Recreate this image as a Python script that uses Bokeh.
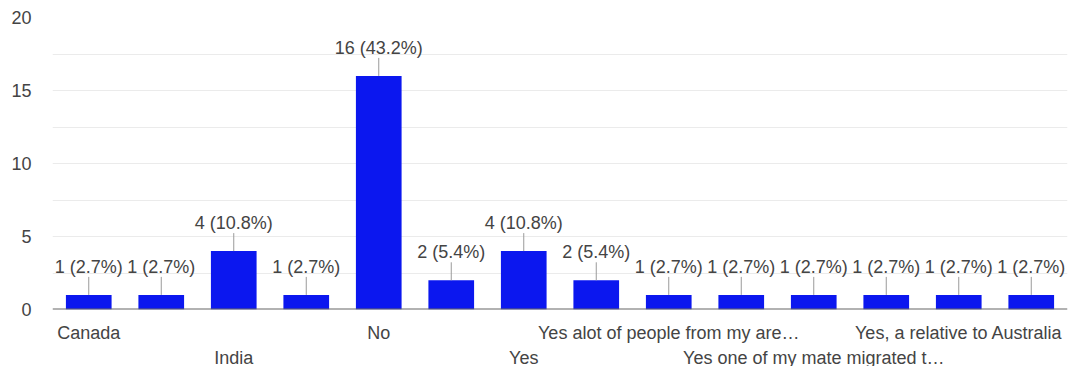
from bokeh.plotting import figure
from bokeh.layouts import column
from bokeh.models import (ColumnDataSource, LabelSet, LinearAxis, FixedTicker,
                          Range1d, Span)
from bokeh.core.properties import value
from bokeh.embed import file_html
from bokeh.resources import INLINE

# Survey answers (only some names fit under the axis; the rest stay blank)
answers = ["Canada", "", "India", "", "No", "", "Yes", "",
           "Yes alot of people from my are\u2026", "",
           "Yes one of my mate migrated t\u2026", "",
           "Yes, a relative to Australia", ""]
counts = [1, 1, 4, 1, 16, 2, 4, 2, 1, 1, 1, 1, 1, 1]
y_ticks = [0, 5, 10, 15, 20]
y_minor = [2.5, 7.5, 12.5, 17.5]

total = sum(counts)
xs = list(range(len(counts)))
labels = [f"{c} ({c / total * 100:.1f}%)" for c in counts]

FONT = "Liberation Sans"
BAR = "#0b17ef"
TEXT = "#444444"

W = 1070
H_MAIN, H_ROW2 = 346, 20
top, bottom, left, right = 17, 37, 52, 3
frame_h = H_MAIN - top - bottom
y_max = 20
px_per_unit = frame_h / y_max
leader_px = 18

x_range = Range1d(-0.5, len(counts) - 0.5)

p = figure(width=W, height=H_MAIN, output_backend="svg", toolbar_location=None,
           x_range=x_range, y_range=Range1d(0, y_max),
           x_axis_location=None, y_axis_location=None,
           min_border_top=top, min_border_bottom=bottom,
           min_border_left=left, min_border_right=right)
p.outline_line_color = None
p.background_fill_color = "white"
p.border_fill_color = "white"

src = ColumnDataSource(dict(x=xs, top=counts, label=labels,
                            lead=[c + leader_px / px_per_unit for c in counts]))

p.vbar(x="x", top="top", width=0.63, bottom=0, source=src,
       fill_color=BAR, line_color=None)
p.segment(x0="x", y0="top", x1="x", y1="lead", source=src,
          line_color="#9a9a9a", line_width=1)
p.add_layout(LabelSet(x="x", y="top", text="label", source=src,
                      y_offset=leader_px + 4, text_align="center",
                      text_baseline="alphabetic", text_font=value(FONT),
                      text_font_size=value("18px"), text_color=TEXT))

# y axis
yax = LinearAxis(ticker=FixedTicker(ticks=y_ticks, minor_ticks=y_minor))
yax.axis_line_color = None
yax.major_tick_line_color = None
yax.minor_tick_line_color = None
yax.major_label_standoff = 15
yax.major_label_text_font = FONT
yax.major_label_text_font_size = "18px"
yax.major_label_text_color = TEXT
p.add_layout(yax, "left")

p.ygrid.ticker = FixedTicker(ticks=y_ticks, minor_ticks=y_minor)
p.ygrid.grid_line_color = "#ebebeb"
p.ygrid.minor_grid_line_color = "#ebebeb"
p.xgrid.grid_line_color = None

# Baseline at zero
p.add_layout(Span(location=0, dimension="width", line_color="#666666",
                  line_width=2))

# Category names, staggered on two rows
row1 = [i for i, a in enumerate(answers) if a and i % 4 == 0]
row2 = [i for i, a in enumerate(answers) if a and i % 4 == 2]

xax = LinearAxis(ticker=FixedTicker(ticks=row1, minor_ticks=[]))
xax.major_label_overrides = {i: answers[i] for i in row1}
xax.axis_line_color = None
xax.major_tick_line_color = None
xax.minor_tick_line_color = None
xax.major_tick_out = 0
xax.major_tick_in = 0
xax.major_label_standoff = 13
xax.major_label_text_font = FONT
xax.major_label_text_font_size = "18px"
xax.major_label_text_color = TEXT
p.add_layout(xax, "below")

# Second row of category names in a thin strip sharing the x range
p2 = figure(width=W, height=H_ROW2, output_backend="svg", toolbar_location=None,
            x_range=x_range, y_range=Range1d(0, H_ROW2),
            x_axis_location=None, y_axis_location=None,
            min_border_top=0, min_border_bottom=0,
            min_border_left=left, min_border_right=right)
p2.outline_line_color = None
p2.xgrid.grid_line_color = None
p2.ygrid.grid_line_color = None
p2.background_fill_color = "white"
p2.border_fill_color = "white"
row2_src = ColumnDataSource(dict(x=row2, y=[9] * len(row2),
                                 name=[answers[i] for i in row2]))
p2.text(x="x", y="y", text="name", source=row2_src,
        text_align="center", text_baseline="middle",
        text_font=value(FONT), text_font_size=value("18px"),
        text_color=TEXT)

layout = column(p, p2, spacing=0)
open("out.html", "w").write(file_html(layout, INLINE))
